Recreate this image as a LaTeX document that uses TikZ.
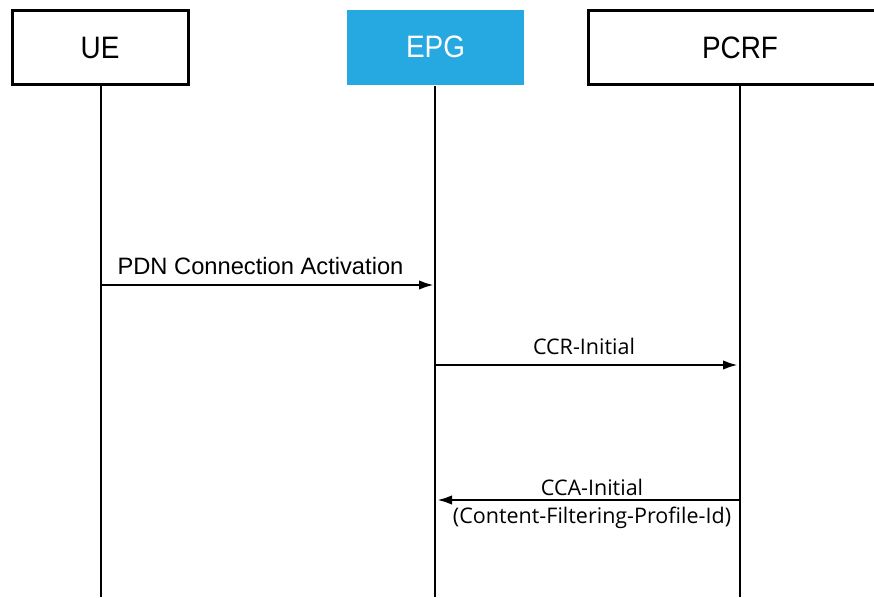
\documentclass[tikz,border=0pt]{standalone}
\usepackage{fontspec}
\setmainfont{Liberation Sans}
\newfontfamily\msgfont{Open Sans}
\usetikzlibrary{arrows.meta}
\definecolor{epgblue}{HTML}{25A9E0}
\newcommand{\narrow}[1]{\scalebox{0.9}[1]{#1}}
\tikzset{
  entity/.style={draw=black,line width=3pt,minimum height=74pt,inner sep=0pt,font=\fontsize{31}{34}\selectfont},
  lifelinestyle/.style={line width=1.5pt},
  msgarrow/.style={line width=2.6pt,-{Latex[length=15pt,width=9.5pt]}},
  plainlbl/.style={font=\fontsize{23.7}{27}\selectfont,inner sep=0pt},
  msglbl/.style={font=\msgfont\fontsize{21.5}{25}\selectfont,inner sep=0pt}}
\begin{document}
\begin{tikzpicture}[x=1pt,y=-1pt]
\useasboundingbox (0,0) rectangle (874,597);
\clip (0,0) rectangle (874,597);

% participants
\node[entity,minimum width=176pt] (ue) at (100,47.5) {\narrow{UE}};
\node[entity,draw=none,fill=epgblue,text=white,minimum width=177pt,minimum height=75pt] (epg) at (435.5,47) {\narrow{EPG}};
\node[entity,minimum width=304pt] (pcrf) at (740,47.5) {\narrow{PCRF}};

% lifelines
\coordinate (ueend) at (101,597);
\coordinate (epgend) at (435,597);
\coordinate (pcrfend) at (740,597);
\draw[lifelinestyle] (ue.south -| ueend) -- (ueend);
\draw[lifelinestyle] (epg.south -| epgend) -- (epgend);
\draw[lifelinestyle] (pcrf.south -| pcrfend) -- (pcrfend);

% messages
\coordinate (m1a) at (101,285);  \coordinate (m1b) at (434,285);
\coordinate (m2a) at (435,365);  \coordinate (m2b) at (738,365);
\coordinate (m3a) at (740,500);  \coordinate (m3b) at (437,500);
\draw[msgarrow] (m1a) -- (m1b);
\draw[msgarrow] (m2a) -- (m2b);
\draw[msgarrow] (m3a) -- (m3b);

\node[plainlbl] (l1) at (260.5,266) {PDN Connection Activation};
\node[msglbl] (l2) at (584,346) {CCR-Initial};
\node[msglbl] (l3) at (592,487) {CCA-Initial};
\node[msglbl] (l4) at (592,518) {(Content-Filtering-Profile-Id)};
\end{tikzpicture}
\end{document}
